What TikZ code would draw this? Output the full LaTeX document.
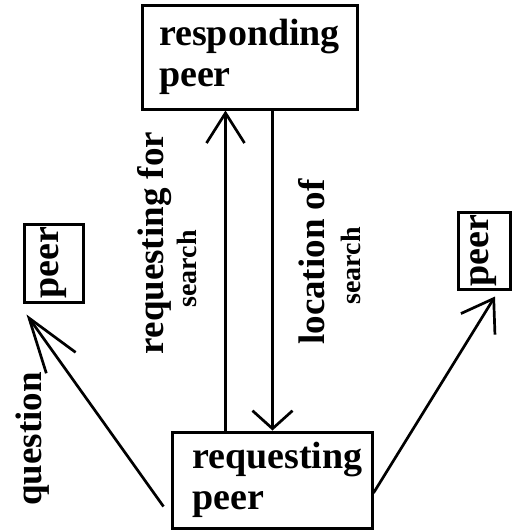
\documentclass[tikz,border=0pt]{standalone}
\usepackage{fontspec}
\setmainfont{Liberation Serif}
\usetikzlibrary{arrows.meta,calc}
\begin{document}
\begin{tikzpicture}[x=1pt,y=-1pt,
  box/.style={draw, line width=3pt, inner sep=0pt, align=left,
    font=\bfseries\fontsize{38}{41}\selectfont},
  lbl/.style={rotate=90, inner sep=0pt, font=\bfseries\fontsize{37}{40}\selectfont},
  smalllbl/.style={rotate=90, inner sep=0pt, font=\bfseries\fontsize{28}{30}\selectfont},
  conn/.style={line width=2.7pt},
  tipsize/.style 2 args={-{Straight Barb[length=#1pt,width=#2pt]}}
]
\useasboundingbox[fill=white] (0,0) rectangle (516,531);

\node[box, minimum width=215pt, minimum height=104pt] (resp) at (249.5,57) {responding\\peer};
\node[box, minimum width=200pt, minimum height=96pt] (req) at (272,480) {\hspace*{11pt}requesting\\\hspace*{11pt}peer};
\node[box, minimum width=59pt, minimum height=78pt] (lp) at (53.5,263) {\rotatebox{90}{peer}};
\node[box, minimum width=52pt, minimum height=77pt] (rp) at (484,250.5) {\rotatebox{90}{peer}};

\draw[conn, tipsize={30}{38}] ($(req.north west)+(55,0)$) -- ($(resp.south west)+(85,0)$);
\draw[conn, tipsize={18}{40}] ($(resp.south west)+(132,0)$) -- ($(req.north west)+(102,0)$);
\draw[conn, tipsize={55}{36}] ($(req.south west)+(-7,-23)$) -- ($(lp.south west)+(4,11)$);
\draw[conn, tipsize={30}{40}] ($(req.east)+(0,13)$) -- ($(rp.south)+(11,6)$);

\node[lbl] (q) at (33,439) {question};
\node[lbl] (rf) at (155,243) {requesting for};
\node[smalllbl] (s1) at (187,269) {search};
\node[lbl] (lo) at (312,262) {location of};
\node[smalllbl] (s2) at (351,266) {search};
\end{tikzpicture}
\end{document}
